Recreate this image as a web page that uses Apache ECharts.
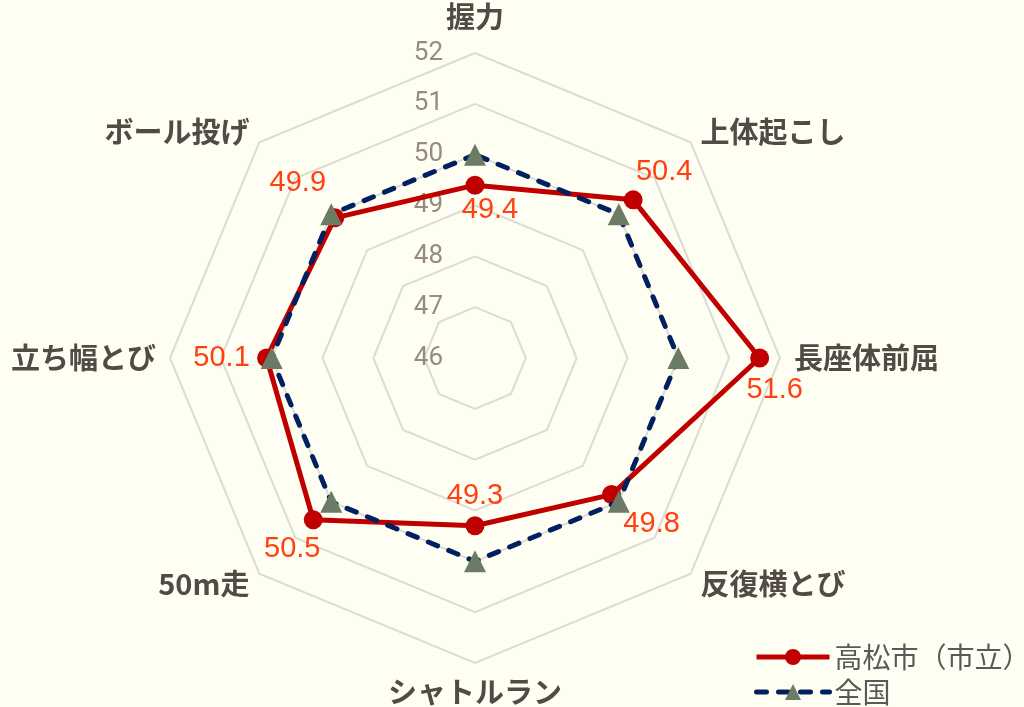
<!DOCTYPE html>
<html>
<head>
<meta charset="utf-8">
<script src="https://cdn.jsdelivr.net/npm/echarts@6/dist/echarts.min.js"></script>
<style>
html,body{margin:0;padding:0;background:#FFFEF2;}
#c{width:1024px;height:707px;}
</style>
</head>
<body>
<div id="c"></div>
<script>
// Categories in clockwise order starting from the top
const categories = ['握力','上体起こし','長座体前屈','反復横とび','シャトルラン','50m走','立ち幅とび','ボール投げ'];
const takamatsu = [49.4, 50.4, 51.6, 49.8, 49.3, 50.5, 50.1, 49.9];
const national  = [50, 50, 50, 50, 50, 50, 50, 50];
const seriesNames = ['高松市（市立）', '全国'];
const axisMin = 46, axisMax = 52;

// label offsets (style only) per category, clockwise order
const labelOffsets = [[15,25],[31,-28],[15,32],[40,29],[0,-30],[-21,29],[-45,0],[-37,-35]];

// ECharts radar lays indicators counter-clockwise: reorder
const order = [0].concat(categories.map((_, i) => i).slice(1).reverse());
const pick = arr => order.map(i => arr[i]);

const indicator = pick(categories).map((name, k) => {
  const o = { name: name, min: axisMin, max: axisMax };
  if (k === 0) o.axisLabel = { show: true };
  return o;
});

const nameStyle = { color: '#524A45', fontSize: 29, fontWeight: 'bold', fontFamily: 'Noto Sans CJK JP' };

const chart = echarts.init(document.getElementById('c'));
chart.setOption({
  backgroundColor: '#FFFEF2',
  animation: false,
  legend: {
    data: seriesNames,
    orient: 'vertical',
    left: 749, top: 638, height: 120,
    itemWidth: 73, itemHeight: 20, itemGap: 7,
    lineStyle: { width: 5 },
    textStyle: { fontSize: 28, color: '#595959', fontFamily: 'Noto Sans CJK JP' }
  },
  grid: { show: false, left: -200, top: -200, width: 10, height: 10 },
  xAxis: { show: false, type: 'category', data: [] },
  yAxis: { show: false, type: 'value' },
  radar: {
    center: [475, 358],
    radius: 305,
    shape: 'polygon',
    splitNumber: 6,
    startAngle: 90,
    nameGap: 14,
    indicator: indicator,
    axisName: Object.assign({}, nameStyle, {
      formatter: name => name === categories[0] ? '{top|' + name + '}' : name,
      rich: { top: Object.assign({}, nameStyle, { padding: [0, 0, 8, 0] }) }
    }),
    axisLine: { show: false },
    axisTick: { show: false },
    splitArea: { show: false },
    splitLine: { lineStyle: { color: '#DCDCD6', width: 2 } },
    axisLabel: { show: false, color: '#968A82', fontSize: 26, fontFamily: 'Roboto', margin: 32, align: 'right', verticalAlign: 'middle' }
  },
  series: [
    { type: 'line', name: seriesNames[0], data: [], symbol: 'circle', symbolSize: 18,
      itemStyle: { color: '#C00000' }, lineStyle: { color: '#C00000', width: 5 } },
    { type: 'line', name: seriesNames[1], data: [], symbol: 'triangle', symbolSize: 20,
      itemStyle: { color: '#6B7B65' }, lineStyle: { color: '#002060', width: 5, type: [10, 12], cap: 'round' } },
    {
      type: 'radar', name: seriesNames[0], z: 3,
      symbol: 'circle', symbolSize: 19,
      itemStyle: { color: '#C00000' },
      lineStyle: { color: '#C00000', width: 5 },
      label: { show: true, position: 'inside', color: '#FF4112', fontSize: 29, fontFamily: 'Liberation Sans',
        formatter: p => String(p.value) },
      labelLayout: function (p) {
        const idx = takamatsu.indexOf(parseFloat(p.text));
        const o = labelOffsets[idx] || [0, 0];
        return { dx: o[0], dy: o[1] };
      },
      data: [{ value: pick(takamatsu), name: seriesNames[0] }]
    },
    {
      type: 'radar', name: seriesNames[1], z: 4,
      symbol: 'triangle', symbolSize: 22,
      itemStyle: { color: '#6B7B65' },
      lineStyle: { color: '#002060', width: 5, type: [10, 12], cap: 'round' },
      data: [{ value: pick(national), name: seriesNames[1] }]
    }
  ]
});
</script>
</body>
</html>
